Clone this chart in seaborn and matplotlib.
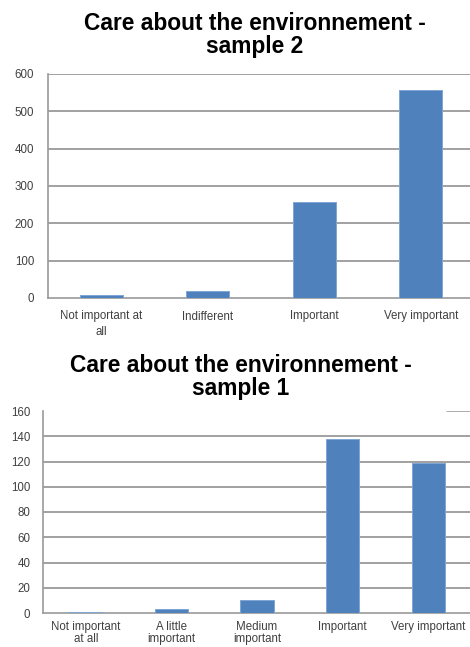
import matplotlib
matplotlib.use("Agg")
import matplotlib.pyplot as plt
import seaborn as sns

# sample 2 (top chart)
cats_s2 = ["Not important at\nall", "Indifferent", "Important", "Very important"]
vals_s2 = [7, 20, 258, 557]
yticks_s2 = [0, 100, 200, 300, 400, 500, 600]

# sample 1 (bottom chart)
cats_s1 = ["Not important\nat all", "A little\nimportant", "Medium\nimportant", "Important", "Very important"]
vals_s1 = [1, 3, 10, 138, 119]
yticks_s1 = [0, 20, 40, 60, 80, 100, 120, 140, 160]

BAR = "#4F81BD"
GRID = "#9A9A9A"
TXT = "#404040"

sns.set_style("white")
plt.rcParams["font.family"] = ["Liberation Sans", "DejaVu Sans"]

W, H = 470, 647
fig = plt.figure(figsize=(W / 100, H / 100), dpi=100)


def px_axes(left, top, right, bottom):
    # pixel box -> figure fraction
    return fig.add_axes([left / W, 1 - bottom / H, (right - left) / W, (bottom - top) / H])


def excel_bars(ax, cats, vals, yticks, width, fs, xpad, xls, ypad, top_grid=True):
    sns.barplot(x=list(range(len(cats))), y=vals, ax=ax, color=BAR, saturation=1,
                width=width, edgecolor="#7FA6D6", linewidth=0.7, native_scale=True)
    # bars sit on top of the axis line, like in Excel
    for p in ax.patches:
        p.set_zorder(3)
    n = len(cats)
    ax.set_xlim(-0.5, n - 0.5)
    ax.set_ylim(0, yticks[-1])
    ax.set_yticks(yticks)
    ax.set_xticks(range(n))
    # same line count everywhere so the first lines line up
    nlines = max(c.count("\n") for c in cats)
    labels = [c + "\n " * (nlines - c.count("\n")) for c in cats]
    ax.set_xticklabels(labels, fontsize=fs, color=TXT, linespacing=xls, va="top")
    ax.set_xticks([i + 0.5 for i in range(n - 1)], minor=True)
    ax.tick_params(axis="x", which="major", length=0, pad=xpad)
    ax.tick_params(axis="x", which="minor", length=3, width=1, color=GRID, direction="out")
    ax.tick_params(axis="y", length=3, width=1, color=GRID, labelsize=fs, labelcolor=TXT, pad=ypad)
    for y in yticks[1:-1]:
        ax.axhline(y, color=GRID, lw=1.3, zorder=0)
    if top_grid:
        ax.axhline(yticks[-1], color=GRID, lw=1.3, zorder=0)
    for s in ["top", "right"]:
        ax.spines[s].set_visible(False)
    ax.spines["left"].set_color(GRID)
    ax.spines["bottom"].set_color(GRID)
    ax.spines["left"].set_linewidth(1.2)
    ax.spines["bottom"].set_linewidth(1.2)
    ax.set_xlabel("")
    ax.set_ylabel("")


ax1 = px_axes(48, 74, 474, 298)
excel_bars(ax1, cats_s2, vals_s2, yticks_s2, 0.40, fs=8.3, xpad=9, xls=1.4, ypad=7)

ax2 = px_axes(43, 411, 471, 613)
excel_bars(ax2, cats_s1, vals_s1, yticks_s1, 0.39, fs=8.3, xpad=6, xls=1.0, ypad=6, top_grid=False)
# only a short piece of the top gridline shows at the right
ax2.axhline(yticks_s1[-1], xmin=(447 - 43) / 428, xmax=1, color="#A6A6A6", lw=1.3, zorder=0)

fig.text(255 / W, 1 - 34.5 / H, "Care about the environnement -\nsample 2", ha="center", va="center",
         fontsize=16.4, fontweight="bold", color="black", linespacing=1.0)
fig.text(241 / W, 1 - 377.5 / H, "Care about the environnement -\nsample 1", ha="center", va="center",
         fontsize=16.4, fontweight="bold", color="black", linespacing=1.0)

fig.savefig("out.png", dpi=100)
